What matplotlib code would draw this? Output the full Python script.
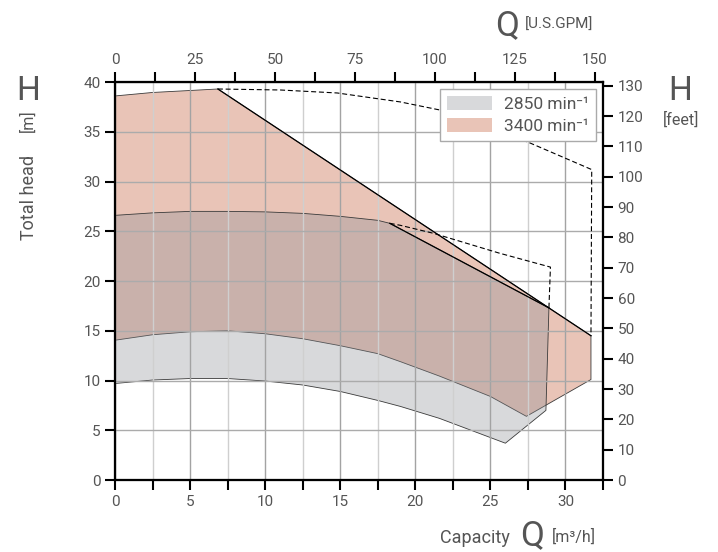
import numpy as np
import matplotlib
matplotlib.use("Agg")
import matplotlib.pyplot as plt
from matplotlib.ticker import MultipleLocator
from matplotlib.patches import Patch

plt.rcParams['font.family'] = ['Roboto', 'DejaVu Sans']

# 2850 min-1 region (Q in m3/h, H in m)
q_2850_top = [0, 2.5, 5, 7.5, 10, 12.5, 15, 17.5, 18.3, 28.9]
h_2850_top = [26.6, 26.85, 27.0, 27.0, 26.95, 26.8, 26.5, 26.1, 25.8, 17.3]
q_2850_right = [28.7, 26.0]
h_2850_right = [7.0, 3.7]
q_2850_bot = [21.6, 19, 17.5, 15, 12.5, 10, 7.5, 5, 2.5, 0]
h_2850_bot = [6.2, 7.4, 8.0, 8.9, 9.55, 9.95, 10.2, 10.2, 10.05, 9.7]
q_2850_dash = [18.3, 19, 21.2, 25.6, 29.0, 28.9]
h_2850_dash = [25.8, 25.6, 24.8, 22.8, 21.4, 17.3]

# 3400 min-1 region
q_3400_top = [0, 2.5, 5, 6.85, 31.7]
h_3400_top = [38.6, 38.95, 39.15, 39.3, 14.5]
q_3400_right = [31.7, 27.4]
h_3400_right = [10.1, 6.4]
q_3400_bot = [25, 21.6, 19, 17.5, 15, 12.5, 10, 7.5, 5, 2.5, 0]
h_3400_bot = [8.4, 10.45, 11.9, 12.7, 13.5, 14.2, 14.7, 15.0, 14.9, 14.6, 14.05]
q_3400_dash = [6.85, 11, 14.8, 19, 21.6, 27.6, 31.75, 31.7]
h_3400_dash = [39.3, 39.2, 38.9, 38.0, 37.2, 33.9, 31.2, 14.5]

labels = ["2850 min\u207b\u00b9", "3400 min\u207b\u00b9"]
pink = '#e9c4b7'
gray = '#8a8d93'
txt = '#555555'

fig = plt.figure(figsize=(7.18, 5.52), dpi=100)
ax = fig.add_axes([0.1602, 0.1304, 0.6796, 0.721])

q_pink = q_3400_top + q_3400_right + q_3400_bot
h_pink = h_3400_top + h_3400_right + h_3400_bot
q_gray = q_2850_top + q_2850_right + q_2850_bot
h_gray = h_2850_top + h_2850_right + h_2850_bot

ax.fill(q_pink, h_pink, facecolor=pink, edgecolor='#3a3a3a', lw=0.6, zorder=1)
ax.fill(q_gray, h_gray, facecolor=gray, alpha=0.33, edgecolor='none', zorder=1.1)
ax.fill(q_gray, h_gray, facecolor='none', edgecolor='#3a3a3a', lw=0.6, zorder=1.2)

# straight limit lines
ax.plot(q_3400_top[-2:], h_3400_top[-2:], color='black', lw=0.9, zorder=3)
ax.plot(q_2850_top[-2:], h_2850_top[-2:], color='black', lw=0.9, zorder=3)
ax.plot(q_3400_dash, h_3400_dash, color='black', lw=0.8, ls=(0, (4.5, 2.5)), zorder=3)
ax.plot(q_2850_dash, h_2850_dash, color='black', lw=0.8, ls=(0, (4.5, 2.5)), zorder=3)

ax.set_xlim(0, 32.5)
ax.set_ylim(0, 40)
ax.xaxis.set_major_locator(MultipleLocator(5))
ax.xaxis.set_minor_locator(MultipleLocator(2.5))
ax.yaxis.set_major_locator(MultipleLocator(5))
ax.grid(True, which='major', axis='x', color='#a3a3a3', lw=1)
ax.grid(True, which='minor', axis='x', color='#cfcfcf', lw=1)
ax.grid(True, which='major', axis='y', color='#ababab', lw=1)

for s in ax.spines.values():
    s.set_linewidth(1.5)
ax.tick_params(which='both', direction='out', length=7, width=1.5, colors='black',
               labelcolor=txt, labelsize=11)

# top axis in U.S.GPM
axt = ax.twiny()
axt.set_xlim(0, 152.5)
axt.xaxis.set_major_locator(MultipleLocator(25))
axt.xaxis.set_minor_locator(MultipleLocator(12.5))
axt.tick_params(which='both', direction='out', length=7, width=1.5, colors='black',
                labelcolor=txt, labelsize=11)

# right axis in feet
axr = ax.twinx()
axr.set_ylim(0, 40 * 3.2808)
axr.yaxis.set_major_locator(MultipleLocator(10))
axr.tick_params(direction='out', length=7, width=1.5, colors='black',
                labelcolor=txt, labelsize=11)
for a in (axt, axr):
    for s in a.spines.values():
        s.set_linewidth(1.5)

handles = [Patch(facecolor=gray, alpha=0.33, edgecolor='none'),
           Patch(facecolor=pink, edgecolor='none')]
leg = axr.legend(handles, labels, loc='upper right', bbox_to_anchor=(0.986, 0.983),
                 borderaxespad=0, fancybox=False, framealpha=1, edgecolor='#aaaaaa',
                 fontsize=12.5, handlelength=2.6, handleheight=0.85, labelcolor=txt,
                 borderpad=0.4, labelspacing=0.35, handletextpad=0.7)
leg.get_frame().set_linewidth(1)

fig.text(0.039, 0.836, "H", fontsize=24, color=txt, ha='center', va='center')
fig.text(0.039, 0.781, "[m]", fontsize=11.5, color=txt, ha='center', va='center', rotation=90)
fig.text(0.040, 0.643, "Total head", fontsize=13, color=txt, ha='center', va='center',
         rotation=90)
fig.text(0.948, 0.836, "H", fontsize=24, color=txt, ha='center', va='center')
fig.text(0.948, 0.783, "[feet]", fontsize=11.5, color=txt, ha='center', va='center')
fig.text(0.706, 0.953, "Q", fontsize=25, color=txt, ha='center', va='center')
fig.text(0.731, 0.955, "[U.S.GPM]", fontsize=11, color=txt, ha='left', va='center')
fig.text(0.710, 0.026, "Capacity", fontsize=13, color=txt, ha='right', va='center')
fig.text(0.741, 0.030, "Q", fontsize=25, color=txt, ha='center', va='center')
fig.text(0.769, 0.028, "[m\u00b3/h]", fontsize=11.5, color=txt, ha='left', va='center')

fig.savefig("out.png", dpi=100)
